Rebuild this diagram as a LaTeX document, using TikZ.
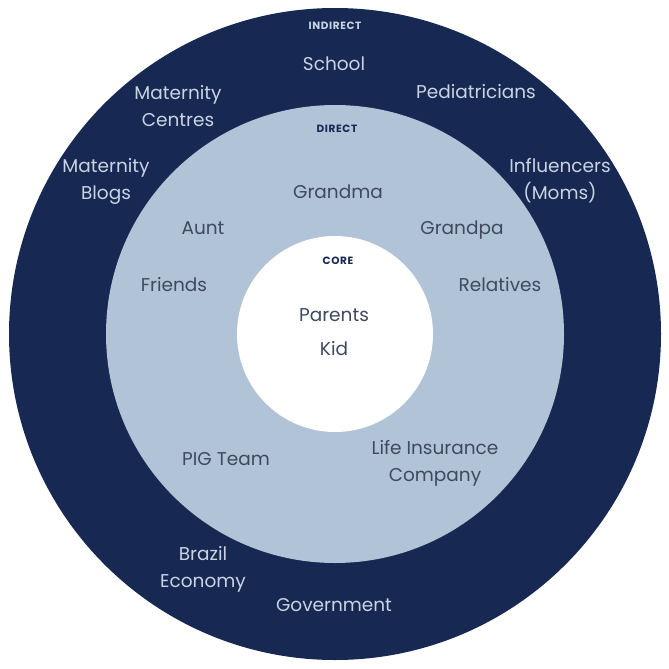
\documentclass[tikz,border=0pt]{standalone}
\usepackage{fontspec}
\setmainfont{Poppins}
\newfontfamily\headfont[LetterSpace=6]{Poppins}
\definecolor{navy}{HTML}{172853}
\definecolor{lightblue}{HTML}{B1C3D6}
\definecolor{outertext}{HTML}{C9D4E2}
\definecolor{innertext}{HTML}{3E4A5E}
\begin{document}
\begin{tikzpicture}[x=1pt,y=-1pt,
  ring/.style={circle,draw=none,inner sep=0pt},
  outlbl/.style={text=outertext,font=\fontsize{18.5}{27}\selectfont,align=center},
  inlbl/.style={text=innertext,font=\fontsize{18.5}{27}\selectfont,align=center},
  headout/.style={text=outertext,font=\headfont\fontsize{10.5}{10}\selectfont\bfseries},
  headin/.style={text=navy,font=\headfont\fontsize{10.5}{10}\selectfont\bfseries}]
\useasboundingbox (0,0) rectangle (669,669);
\node[ring,fill=navy,minimum size=652pt] (outer) at (335,334) {};
\node[ring,fill=lightblue,minimum size=458pt] (middle) at (335,334) {};
\node[ring,fill=white,minimum size=196pt] (inner) at (335,334) {};
% indirect
\node[headout] (indirect) at (335,26) {INDIRECT};
\node[outlbl] (school) at (334,64) {School};
\node[outlbl] (matc) at (178,106) {Maternity\\Centres};
\node[outlbl] (pedi) at (476,92) {Pediatricians};
\node[outlbl] (matb) at (106,181) {Maternity\\Blogs};
\node[outlbl] (infl) at (560,181) {Influencers\\(Moms)};
\node[outlbl] (brazil) at (203,569) {Brazil\\Economy};
\node[outlbl] (gov) at (334,605) {Government};
% direct
\node[headin] (direct) at (337,129) {DIRECT};
\node[inlbl] (grandma) at (338,192) {Grandma};
\node[inlbl] (aunt) at (203,228) {Aunt};
\node[inlbl] (grandpa) at (462,230) {Grandpa};
\node[inlbl] (friends) at (174,285) {Friends};
\node[inlbl] (relatives) at (500,285) {Relatives};
\node[inlbl] (pig) at (226,459) {PIG Team};
\node[inlbl] (life) at (435,463) {Life Insurance\\Company};
% core
\node[headin] (core) at (338,261) {CORE};
\node[inlbl] (parents) at (334,315) {Parents};
\node[inlbl] (kid) at (334,349) {Kid};
\end{tikzpicture}
\end{document}
